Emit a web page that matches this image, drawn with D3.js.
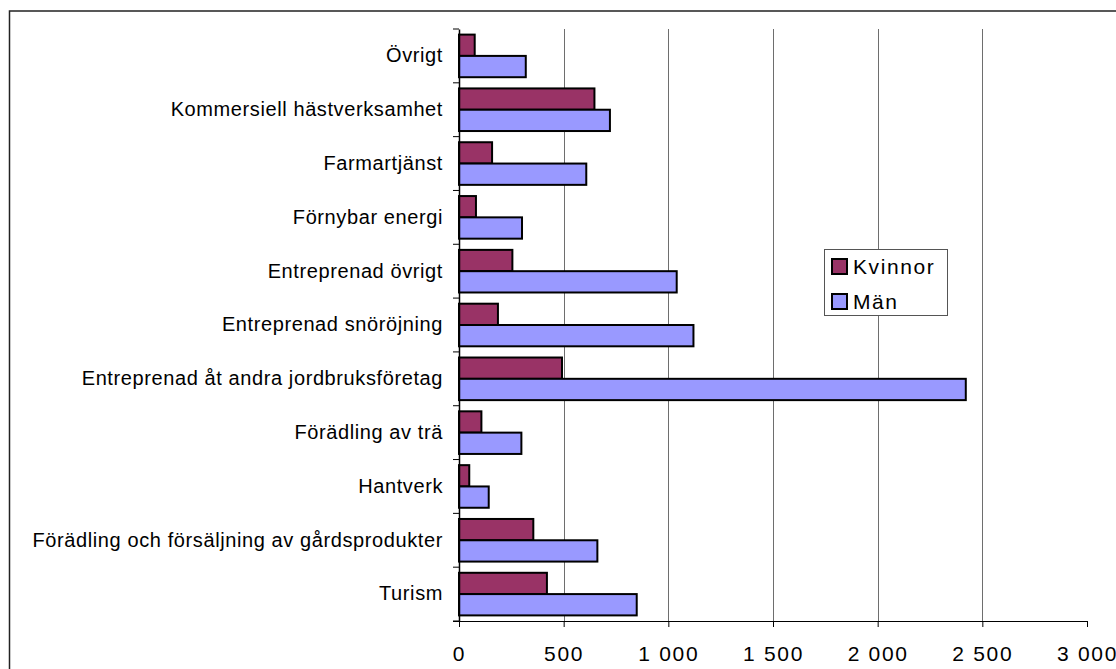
<!DOCTYPE html>
<html>
<head>
<meta charset="utf-8">
<script src="https://cdn.jsdelivr.net/npm/d3@7"></script>
<style>
  html, body { margin: 0; padding: 0; background: #fff; }
  svg { display: block; font-family: Arial, "Liberation Sans", sans-serif; }
</style>
</head>
<body>
<svg id="chart" width="1116" height="669"></svg>
<script>
const categories = [
  "Övrigt",
  "Kommersiell hästverksamhet",
  "Farmartjänst",
  "Förnybar energi",
  "Entreprenad övrigt",
  "Entreprenad snöröjning",
  "Entreprenad åt andra jordbruksföretag",
  "Förädling av trä",
  "Hantverk",
  "Förädling och försäljning av gårdsprodukter",
  "Turism"
];
const seriesNames = ["Kvinnor", "Män"];
const kvinnor = [75, 647, 158, 81, 255, 186, 492, 107, 49, 355, 420];
const man     = [319, 721, 608, 301, 1040, 1120, 2421, 298, 142, 661, 849];
const xTicks = [0, 500, 1000, 1500, 2000, 2500, 3000];
const colors = ["#993366", "#9999FF"];

const svg = d3.select("#chart");

// outer chart border (extends beyond the visible frame on right and bottom)
svg.append("rect")
  .attr("x", 9.5).attr("y", 11)
  .attr("width", 1130).attr("height", 700)
  .attr("fill", "none").attr("stroke", "#222").attr("stroke-width", 1.5);

const pLeft = 459, pRight = 1087, pTop = 29, pBottom = 621;

const x = d3.scaleLinear().domain([0, 3000]).range([pLeft, pRight]);
const y = d3.scaleBand().domain(categories).range([pTop, pBottom]).padding(0);
const inner = d3.scaleBand().domain(seriesNames).range([0, y.bandwidth()])
  .paddingInner(0).paddingOuter(0.263);

// gridlines
svg.append("g").selectAll("line")
  .data(xTicks.filter(d => d > 0 && d < 3000))
  .join("line")
  .attr("x1", d => Math.round(x(d)) + 0.5).attr("x2", d => Math.round(x(d)) + 0.5)
  .attr("y1", pTop).attr("y2", pBottom)
  .attr("stroke", "#6e6e6e").attr("stroke-width", 1);

// bars
const rows = categories.map((c, i) => ({ cat: c, vals: [kvinnor[i], man[i]] }));
const grp = svg.append("g").selectAll("g").data(rows).join("g")
  .attr("transform", d => `translate(0,${y(d.cat)})`);
grp.selectAll("rect")
  .data(d => d.vals.map((v, j) => ({ s: seriesNames[j], v, j })))
  .join("rect")
  .attr("x", x(0))
  .attr("y", d => inner(d.s))
  .attr("width", d => x(d.v) - x(0))
  .attr("height", inner.bandwidth())
  .attr("fill", d => colors[d.j])
  .attr("stroke", "#000").attr("stroke-width", 2);

// left axis
const yAxis = svg.append("g")
  .attr("transform", `translate(${pLeft},0)`)
  .call(d3.axisLeft(y).tickSize(0).tickPadding(16));
yAxis.select(".domain").attr("stroke", "#000").attr("stroke-width", 1.5);
yAxis.selectAll("text")
  .attr("font-size", 20).attr("fill", "#000")
  .attr("letter-spacing", "0.6px")
  .attr("font-family", "Arial, 'Liberation Sans', sans-serif");
// category boundary ticks
svg.append("g").selectAll("line")
  .data(categories.map(c => y(c)).concat([pBottom]))
  .join("line")
  .attr("x1", pLeft - 6).attr("x2", pLeft)
  .attr("y1", d => d).attr("y2", d => d)
  .attr("stroke", "#000").attr("stroke-width", 1);

// bottom axis
const xAxis = svg.append("g")
  .attr("transform", `translate(0,${pBottom})`)
  .call(d3.axisBottom(x).tickValues(xTicks).tickSize(6).tickPadding(19)
    .tickFormat(d => d3.format(",")(d).replace(/,/g, " ")));
xAxis.select(".domain").attr("stroke", "#000").attr("stroke-width", 1.2)
  .attr("d", `M${pLeft - 6},0.5H${pRight}`);
xAxis.selectAll(".tick line").attr("stroke", "#000");
xAxis.selectAll("text")
  .attr("font-size", 21).attr("fill", "#000")
  .attr("letter-spacing", "1.7px")
  .attr("font-family", "Arial, 'Liberation Sans', sans-serif");

// legend
const lg = svg.append("g");
lg.append("rect")
  .attr("x", 824.5).attr("y", 249.5).attr("width", 123).attr("height", 66)
  .attr("fill", "#fff").attr("stroke", "#555").attr("stroke-width", 1);
seriesNames.forEach((s, i) => {
  const yy = 259 + i * 35;
  lg.append("rect")
    .attr("x", 832).attr("y", yy).attr("width", 15).attr("height", 15)
    .attr("fill", colors[i]).attr("stroke", "#000").attr("stroke-width", 2);
  lg.append("text")
    .attr("x", 853).attr("y", yy + 15)
    .attr("font-size", 21).attr("letter-spacing", "1.6px")
    .attr("fill", "#000").text(s);
});
</script>
</body>
</html>
